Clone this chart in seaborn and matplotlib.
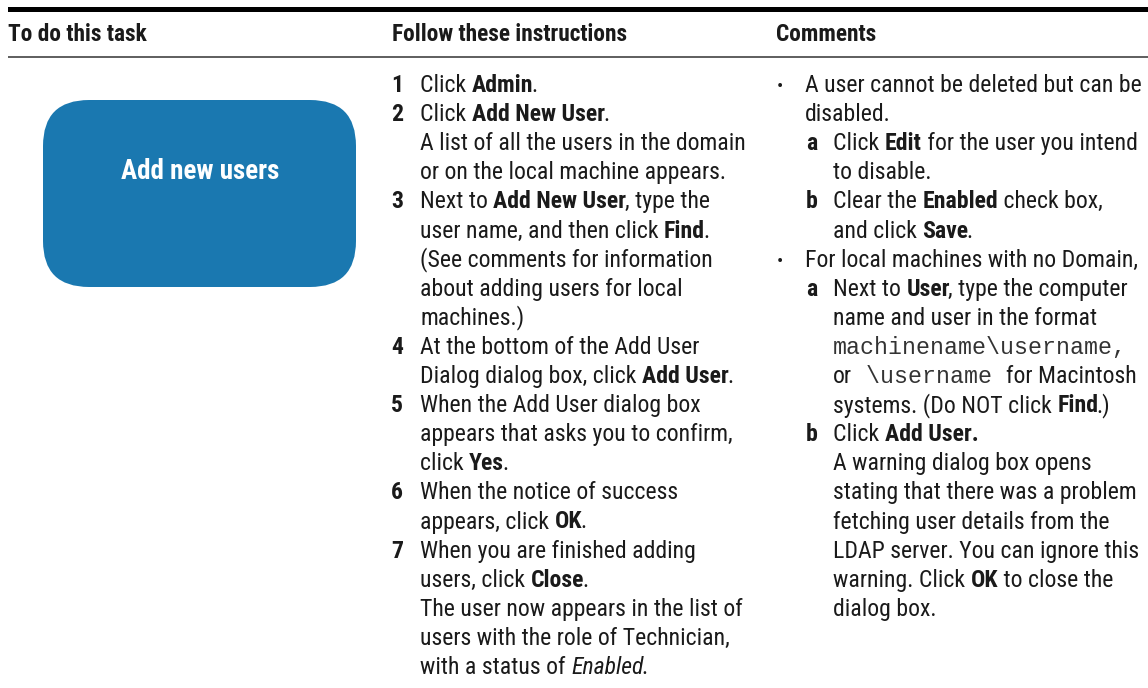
import re
import matplotlib
matplotlib.use("Agg")
import matplotlib.pyplot as plt
import seaborn as sns
from matplotlib import font_manager as fm
from matplotlib.patches import FancyBboxPatch, Rectangle

# ---------------- data ----------------
headers = ["To do this task", "Follow these instructions", "Comments"]
task_label = "Add new users"

# (number, text)   **bold**  ~italic~  `mono`
steps = [
    ("1", "Click **Admin**."),
    ("2", "Click **Add New User**."),
    ("", "A list of all the users in the domain"),
    ("", "or on the local machine appears."),
    ("3", "Next to **Add New User**, type the"),
    ("", "user name, and then click **Find**."),
    ("", "(See comments for information"),
    ("", "about adding users for local"),
    ("", "machines.)"),
    ("4", "At the bottom of the Add User"),
    ("", "Dialog dialog box, click **Add User**."),
    ("5", "When the Add User dialog box"),
    ("", "appears that asks you to confirm,"),
    ("", "click **Yes**."),
    ("6", "When the notice of success"),
    ("", "appears, click **OK**."),
    ("7", "When you are finished adding"),
    ("", "users, click **Close**."),
    ("", "The user now appears in the list of"),
    ("", "users with the role of Technician,"),
    ("", "with a status of ~Enabled~."),
]

# (marker, indent level, text)
comments = [
    ("•", 0, "A user cannot be deleted but can be"),
    ("", 0, "disabled."),
    ("a", 1, "Click **Edit** for the user you intend"),
    ("", 1, "to disable."),
    ("b", 1, "Clear the **Enabled** check box,"),
    ("", 1, "and click **Save**."),
    ("•", 0, "For local machines with no Domain,"),
    ("a", 1, "Next to **User**, type the computer"),
    ("", 1, "name and user in the format"),
    ("", 1, "`machinename\\username,`"),
    ("", 1, "or` \\username `for Macintosh"),
    ("", 1, "systems. (Do NOT click **Find**.)"),
    ("b", 1, "Click **Add User.**"),
    ("", 1, "A warning dialog box opens"),
    ("", 1, "stating that there was a problem"),
    ("", 1, "fetching user details from the"),
    ("", 1, "LDAP server. You can ignore this"),
    ("", 1, "warning. Click **OK** to close the"),
    ("", 1, "dialog box."),
]

# ---------------- style ----------------
sns.set_theme(style="white")


def pick(cands):
    for f in cands:
        try:
            fm.findfont(fm.FontProperties(family=f), fallback_to_default=False)
            return f
        except Exception:
            pass
    return "DejaVu Sans"


SANS = pick(["Liberation Sans Narrow", "Roboto Condensed", "Liberation Sans"])
MONO = pick(["Liberation Mono", "DejaVu Sans Mono"])
plt.rcParams["font.family"] = [SANS, "DejaVu Sans"]

TEXT = "#1a1a1a"
MONO_C = "#333333"
BOX = "#1a78b0"
W, H, DPI = 1148, 688, 100

fig = plt.figure(figsize=(W / DPI, H / DPI), dpi=DPI)
ax = fig.add_axes([0, 0, 1, 1])
ax.set_xlim(0, W)
ax.set_ylim(H, 0)
ax.axis("off")
sns.despine(ax=ax, left=True, bottom=True)
renderer = fig.canvas.get_renderer()


def props(style, size):
    if style == "m":
        return fm.FontProperties(family=MONO, size=size)
    return fm.FontProperties(family=[SANS, "DejaVu Sans"], size=size,
                             weight="bold" if style == "b" else "normal",
                             style="italic" if style == "i" else "normal")


def width(s, style, size):
    p = props(style, size)
    w1 = renderer.get_text_width_height_descent("|" + s + "|", p, ismath=False)[0]
    w0 = renderer.get_text_width_height_descent("||", p, ismath=False)[0]
    return w1 - w0


def fit(s, style, target):
    return 20.0 * target / width(s, style, 20.0)


BODY = fit("The user now appears in the list of", "r", 323)
HEAD = fit("To do this task", "b", 139)
BOXF = fit(task_label, "b", 158)
MONOF = fit("machinename\\username,", "m", 293)


def runs(s):
    out = []
    for tok in re.split(r"(\*\*.*?\*\*|~.*?~|`.*?`)", s):
        if not tok:
            continue
        if tok.startswith("**"):
            out.append((tok[2:-2], "b"))
        elif tok.startswith("~"):
            out.append((tok[1:-1], "i"))
        elif tok.startswith("`"):
            out.append((tok[1:-1], "m"))
        else:
            out.append((tok, "r"))
    return out


def draw_line(x, y, s):
    prev = None
    for txt, st in runs(s):
        size = MONOF if st == "m" else BODY
        if prev in ("b", "i") and st == "r" and txt[:1] in ".,":
            x -= 1.6  # tighten punctuation after emphasised words
        ax.text(x, y, txt, fontproperties=props(st, size),
                color=MONO_C if st == "m" else TEXT,
                ha="left", va="baseline", parse_math=False)
        x += width(txt, st, size)
        prev = st


# rules
ax.add_patch(Rectangle((8, 7), W - 8, 5, color="black", lw=0))
ax.plot([8, W], [57, 57], color="#333333", lw=1.1, solid_capstyle="butt")

# headers
for hx, label in zip([8, 392, 776], headers):
    ax.text(hx, 41, label, fontproperties=props("b", HEAD), color=TEXT,
            ha="left", va="baseline")

# task box
ax.add_patch(FancyBboxPatch((43, 100), 313, 187,
                            boxstyle="round,pad=0,rounding_size=46",
                            facecolor=BOX, edgecolor="none"))
ax.text(200, 179, task_label, fontproperties=props("b", BOXF), color="white",
        ha="center", va="baseline")

# instructions column
Y0, DY = 92, 29.1
for i, (num, s) in enumerate(steps):
    y = Y0 + i * DY
    if num:
        ax.text(391, y, num, fontproperties=props("b", BODY), color=TEXT,
                ha="left", va="baseline")
    draw_line(420, y, s)

# comments column
for i, (mark, lvl, s) in enumerate(comments):
    y = Y0 + i * DY
    if mark == "•":
        ax.text(777, y, mark, fontproperties=props("r", BODY * 0.8), color=TEXT,
                ha="left", va="baseline")
    elif mark:
        ax.text(806, y, mark, fontproperties=props("b", BODY), color=TEXT,
                ha="left", va="baseline")
    draw_line(805 if lvl == 0 else 833, y, s)

fig.savefig("out.png", dpi=DPI, facecolor="white")
